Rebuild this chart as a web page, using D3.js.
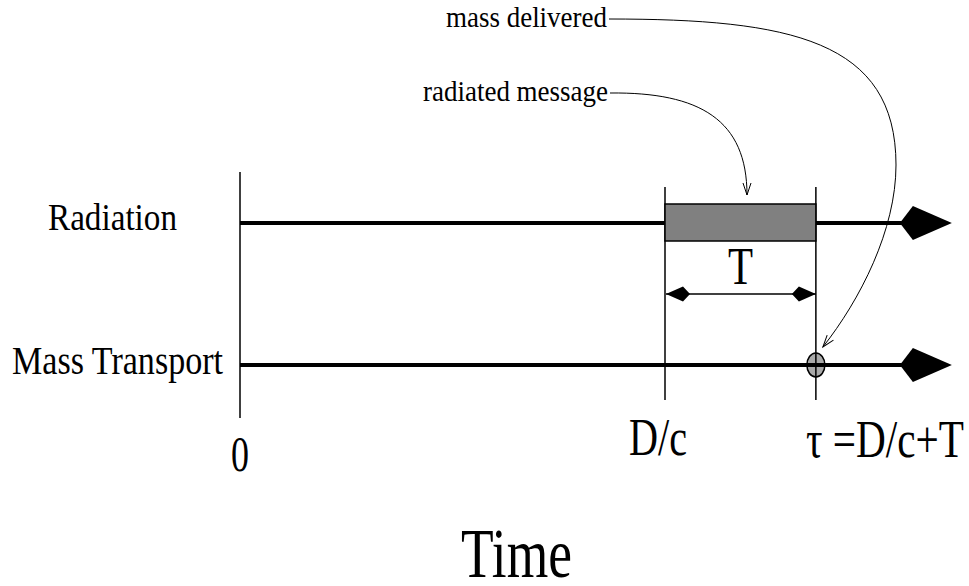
<!DOCTYPE html>
<html>
<head>
<meta charset="utf-8">
<script src="https://cdn.jsdelivr.net/npm/d3@7"></script>
<style>
  body { margin: 0; background: #fff; }
  text { font-family: "Liberation Serif", "Times New Roman", serif; fill: #000; }
</style>
</head>
<body>
<svg id="chart" width="969" height="586"></svg>
<script>
// --- data ---
var rows = ["Radiation", "Mass Transport"];
var tickTimes = [0, 1, 1.355];           // 0, D/c, tau = D/c + T
var tickLabels = ["0", "D/c", "\u03c4 =D/c+T"];
var msgStart = 1;                        // D/c
var msgLength = 0.355;                   // T
var axisEnd = 1.675;
var notes = ["mass delivered", "radiated message"];

var svg = d3.select("#chart");

// scales
var x = d3.scaleLinear().domain([0, 1]).range([240, 665]);
var y = d3.scalePoint().domain(rows).range([223, 365]);

// markers
var defs = svg.append("defs");
defs.append("marker")
  .attr("id", "vhead")
  .attr("markerUnits", "userSpaceOnUse")
  .attr("viewBox", "-13 -6 15 12")
  .attr("markerWidth", 15)
  .attr("markerHeight", 12)
  .attr("refX", 0)
  .attr("refY", 0)
  .attr("orient", "auto")
  .append("path")
  .attr("d", "M-12,-4L0,0L-12,4")
  .attr("fill", "none")
  .attr("stroke", "#000")
  .attr("stroke-width", 1);

// delivered mass (drawn first, lines pass over it)
svg.append("ellipse")
  .attr("cx", x(msgStart + msgLength))
  .attr("cy", y(rows[1]))
  .attr("rx", 9).attr("ry", 12)
  .attr("fill", "#aaaaaa")
  .attr("stroke", "#000").attr("stroke-width", 1.5);

// vertical time markers
svg.selectAll(".tick-line")
  .data(tickTimes)
  .enter()
  .append("line")
  .attr("class", "tick-line")
  .attr("x1", function (d) { return x(d); })
  .attr("x2", function (d) { return x(d); })
  .attr("y1", function (d, i) { return i == 0 ? 172 : 187; })
  .attr("y2", function (d, i) { return i == 0 ? 418 : 400; })
  .attr("stroke", "#000")
  .attr("stroke-width", 1.5);

// timelines with kite arrowheads
var lines = svg.selectAll(".row").data(rows).enter().append("g").attr("class", "row");
lines.append("line")
  .attr("x1", x(0))
  .attr("x2", x(axisEnd) - 50)
  .attr("y1", function (d) { return y(d); })
  .attr("y2", function (d) { return y(d); })
  .attr("stroke", "#000")
  .attr("stroke-width", 4);
lines.append("path")
  .attr("d", function (d) {
    var e = x(axisEnd), yy = y(d);
    return "M" + (e - 52) + "," + yy + "L" + (e - 39) + "," + (yy - 17) +
      "L" + e + "," + yy + "L" + (e - 39) + "," + (yy + 17) + "Z";
  })
  .attr("fill", "#000");

// radiated message box
svg.append("rect")
  .attr("x", x(msgStart))
  .attr("y", y(rows[0]) - 19)
  .attr("width", x(msgStart + msgLength) - x(msgStart))
  .attr("height", 37)
  .attr("fill", "#808080")
  .attr("stroke", "#000")
  .attr("stroke-width", 1.5);

// T span double arrow
var ay = 294, x0 = x(msgStart) + 1, x1 = x(msgStart + msgLength);
svg.append("line")
  .attr("x1", x0).attr("x2", x1)
  .attr("y1", ay).attr("y2", ay)
  .attr("stroke", "#000").attr("stroke-width", 1.5);
svg.append("path")
  .attr("d", "M" + x0 + "," + ay + "L" + (x0 + 17) + "," + (ay - 7.5) + "L" + (x0 + 24) + "," + ay + "L" + (x0 + 17) + "," + (ay + 7.5) + "Z" +
    "M" + x1 + "," + ay + "L" + (x1 - 17) + "," + (ay - 7.5) + "L" + (x1 - 24) + "," + ay + "L" + (x1 - 17) + "," + (ay + 7.5) + "Z")
  .attr("fill", "#000");
svg.append("text")
  .attr("x", 728).attr("y", 284)
  .attr("font-size", 52)
  .attr("textLength", 25).attr("lengthAdjust", "spacingAndGlyphs")
  .text("T");

// row labels
var rowLab = [
  { x: 48, y: 230, size: 38, len: 129 },
  { x: 12, y: 374, size: 41, len: 211 }
];
svg.selectAll(".row-label")
  .data(rows)
  .enter()
  .append("text")
  .attr("class", "row-label")
  .attr("x", function (d, i) { return rowLab[i].x; })
  .attr("y", function (d, i) { return rowLab[i].y; })
  .attr("font-size", function (d, i) { return rowLab[i].size; })
  .attr("textLength", function (d, i) { return rowLab[i].len; })
  .attr("lengthAdjust", "spacingAndGlyphs")
  .text(function (d) { return d; });

// tick labels
var tickLab = [
  { dx: -9, y: 471, size: 50, len: 18 },
  { dx: -36, y: 455, size: 53, len: 58 },
  { dx: -10, y: 457, size: 53, len: 158 }
];
svg.selectAll(".tick-label")
  .data(tickLabels)
  .enter()
  .append("text")
  .attr("class", "tick-label")
  .attr("x", function (d, i) { return x(tickTimes[i]) + tickLab[i].dx; })
  .attr("y", function (d, i) { return tickLab[i].y; })
  .attr("font-size", function (d, i) { return tickLab[i].size; })
  .attr("textLength", function (d, i) { return tickLab[i].len; })
  .attr("lengthAdjust", "spacingAndGlyphs")
  .text(function (d) { return d; });

// axis title
svg.append("text")
  .attr("x", 461).attr("y", 577)
  .attr("font-size", 70)
  .attr("textLength", 111).attr("lengthAdjust", "spacingAndGlyphs")
  .text("Time");

// annotations with curved leaders
var noteLab = [
  { x: 446, y: 27, size: 29, len: 161 },
  { x: 423, y: 101, size: 30, len: 185 }
];
svg.selectAll(".note")
  .data(notes)
  .enter()
  .append("text")
  .attr("class", "note")
  .attr("x", function (d, i) { return noteLab[i].x; })
  .attr("y", function (d, i) { return noteLab[i].y; })
  .attr("font-size", function (d, i) { return noteLab[i].size; })
  .attr("textLength", function (d, i) { return noteLab[i].len; })
  .attr("lengthAdjust", "spacingAndGlyphs")
  .text(function (d) { return d; });

var tEnd = x(msgStart + msgLength);
var leaders = [
  "M609,19C790,19 896,40 896,165C896,230 860,300 " + (tEnd + 7) + ",347",
  "M610,93C700,92 747,120 747,195"
];
svg.selectAll(".leader")
  .data(leaders)
  .enter()
  .append("path")
  .attr("class", "leader")
  .attr("d", function (d) { return d; })
  .attr("fill", "none")
  .attr("stroke", "#000")
  .attr("stroke-width", 1)
  .attr("marker-end", "url(#vhead)");
</script>
</body>
</html>
